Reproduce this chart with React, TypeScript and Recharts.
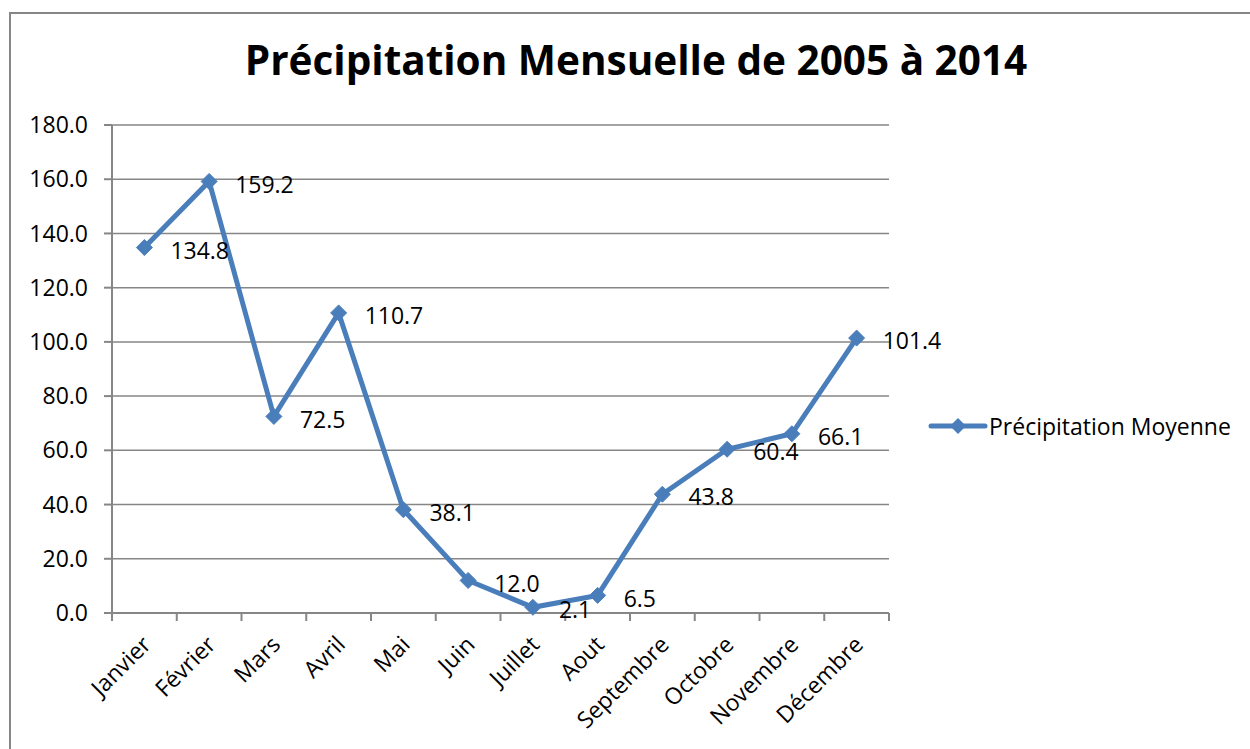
import React from "react";
import {
  LineChart,
  CartesianGrid,
  XAxis,
  YAxis,
  Line,
  LabelList,
} from "recharts";

const months = [
  "Janvier",
  "Février",
  "Mars",
  "Avril",
  "Mai",
  "Juin",
  "Juillet",
  "Aout",
  "Septembre",
  "Octobre",
  "Novembre",
  "Décembre",
];
const precipitation = [
  134.8, 159.2, 72.5, 110.7, 38.1, 12.0, 2.1, 6.5, 43.8, 60.4, 66.1, 101.4,
];
const yTicks = [0, 20, 40, 60, 80, 100, 120, 140, 160, 180];
const seriesName = "Précipitation Moyenne";
const title = "Précipitation Mensuelle de 2005 à 2014";

const FONT = "'Open Sans', sans-serif";
const BLUE = "#4A7EBB";
const GRAY = "#868686";
const FS = 23;

const CHART_W = 1250;
const CHART_H = 749;
const MARGIN = { top: 125, right: 361, bottom: 22, left: 0 };
const Y_AXIS_W = 112;
const PLOT_W = CHART_W - MARGIN.left - MARGIN.right - Y_AXIS_W;
const HALF_STEP = PLOT_W / months.length / 2;

const data = months.map((m, i) => ({ month: m, value: precipitation[i] }));

const MonthTick = (props: any) => {
  const { x, y, payload, index } = props;
  const tx = x + 8;
  const ty = y + 33;
  return (
    <g>
      <line x1={x - HALF_STEP} y1={y} x2={x - HALF_STEP} y2={y + 8} stroke={GRAY} strokeWidth={2} />
      {index === months.length - 1 && (
        <line x1={x + HALF_STEP} y1={y} x2={x + HALF_STEP} y2={y + 8} stroke={GRAY} strokeWidth={2} />
      )}
      <text
        x={tx}
        y={ty}
        transform={`rotate(-45, ${tx}, ${ty})`}
        textAnchor="end"
        fontFamily={FONT}
        fontSize={FS}
        fill="#000"
      >
        {payload.value}
      </text>
    </g>
  );
};

const Diamond = (props: any) => {
  const { cx, cy } = props;
  if (cx == null || cy == null) return null;
  const r = 8;
  return (
    <polygon
      points={`${cx},${cy - r} ${cx + r},${cy} ${cx},${cy + r} ${cx - r},${cy}`}
      fill={BLUE}
      stroke={BLUE}
    />
  );
};

const ValueLabel = (props: any) => {
  const { x, y, value } = props;
  return (
    <text
      x={x + 26}
      y={y + 5}
      dominantBaseline="middle"
      fontFamily={FONT}
      fontSize={FS}
      fill="#000"
    >
      {Number(value).toFixed(1)}
    </text>
  );
};

const LegendBox = () => (
  <div
    style={{
      position: "absolute",
      left: 928,
      top: 410,
      display: "flex",
      alignItems: "center",
      fontFamily: FONT,
      fontSize: FS,
      whiteSpace: "nowrap",
    }}
  >
    <svg width={60} height={20}>
      <line x1={3} y1={10} x2={57} y2={10} stroke={BLUE} strokeWidth={5} strokeLinecap="round" />
      <polygon points="30,2 38,10 30,18 22,10" fill={BLUE} />
    </svg>
    <span style={{ marginLeft: 1, color: "#000" }}>{seriesName}</span>
  </div>
);

export default function App() {
  return (
    <div
      style={{
        position: "fixed",
        left: 0,
        top: 0,
        width: CHART_W,
        height: CHART_H,
        background: "#fff",
        overflow: "hidden",
      }}
    >
      <div
        style={{
          position: "absolute",
          left: 9,
          top: 12,
          width: 1400,
          height: 900,
          borderTop: `2px solid ${GRAY}`,
          borderLeft: `2px solid ${GRAY}`,
        }}
      />
      <div
        style={{
          position: "absolute",
          left: 0,
          top: 32,
          width: 1272,
          textAlign: "center",
          fontFamily: FONT,
          fontWeight: 700,
          fontSize: 40.5,
          color: "#000",
        }}
      >
        {title}
      </div>
      <LegendBox />
      <div style={{ position: "absolute", left: 0, top: 0 }}>
        <LineChart width={CHART_W} height={CHART_H} data={data} margin={MARGIN}>
          <CartesianGrid horizontal vertical={false} stroke={GRAY} strokeWidth={1.5} />
          <XAxis
            dataKey="month"
            interval={0}
            padding={{ left: HALF_STEP, right: HALF_STEP }}
            tickLine={false}
            tickSize={0}
            tickMargin={0}
            axisLine={{ stroke: GRAY, strokeWidth: 2 }}
            tick={<MonthTick />}
            height={114}
          />
          <YAxis
            width={Y_AXIS_W}
            domain={[0, 180]}
            ticks={yTicks}
            interval={0}
            tickFormatter={(v: number) => v.toFixed(1)}
            tickSize={8}
            tickMargin={16}
            tickLine={{ stroke: GRAY, strokeWidth: 2 }}
            axisLine={{ stroke: GRAY, strokeWidth: 2 }}
            tick={{ fill: "#000", fontFamily: FONT, fontSize: FS }}
          />
          <Line
            type="linear"
            dataKey="value"
            name={seriesName}
            stroke={BLUE}
            strokeWidth={5}
            dot={<Diamond />}
            activeDot={false}
            isAnimationActive={false}
          >
            <LabelList dataKey="value" content={<ValueLabel />} />
          </Line>
        </LineChart>
      </div>
    </div>
  );
}
